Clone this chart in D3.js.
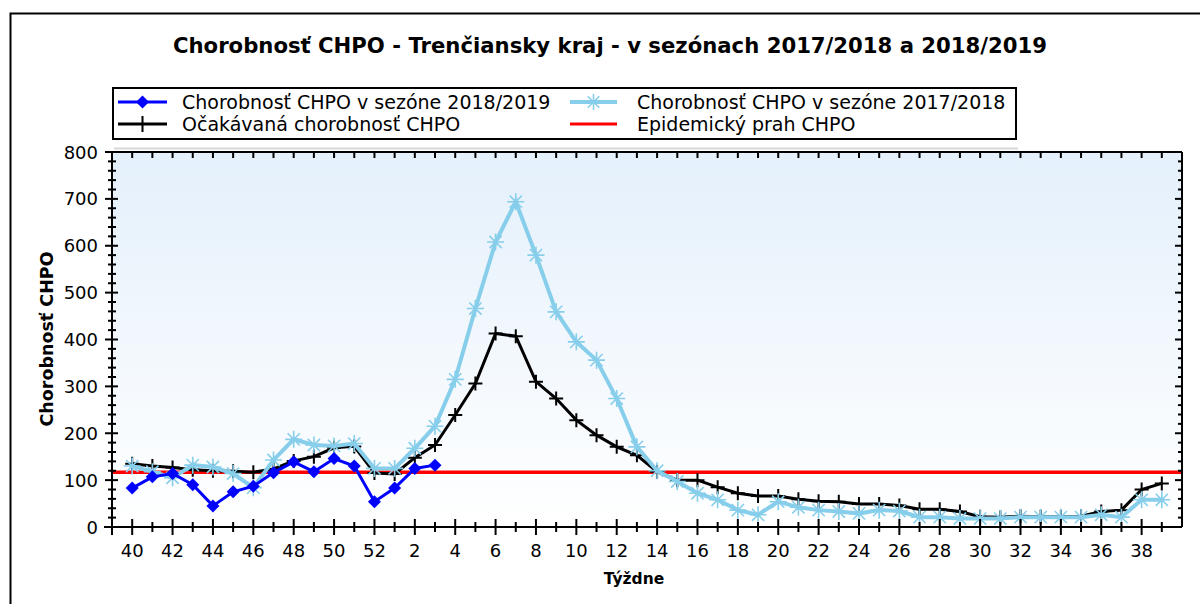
<!DOCTYPE html>
<html>
<head>
<meta charset="utf-8">
<script src="https://cdn.jsdelivr.net/npm/d3@7"></script>
<style>
  html, body { margin: 0; padding: 0; background: #fff; }
  svg { display: block; }
  text { font-family: "DejaVu Sans", sans-serif; fill: #000; }
</style>
</head>
<body>
<svg id="chart" width="1200" height="604"></svg>
<script>
// ---------- data ----------
const weeks = [40,41,42,43,44,45,46,47,48,49,50,51,52,1,2,3,4,5,6,7,8,9,10,11,12,13,14,15,16,17,18,19,20,21,22,23,24,25,26,27,28,29,30,31,32,33,34,35,36,37,38,39];
const season1819 = [83,107,114,90,45,75,87,116,139,118,146,130,54,83,125,132];
const season1718 = [130,118,105,132,128,114,84,143,187,175,173,178,125,125,168,215,315,466,608,694,580,459,395,356,274,171,120,97,72,58,36,26,54,42,36,33,29,36,34,21,21,18,18,18,21,21,21,21,26,21,58,58];
const expected = [135,130,127,122,120,119,117,124,141,150,169,172,115,113,148,175,239,306,413,407,310,274,228,196,171,153,118,100,100,85,72,66,66,59,55,54,49,49,46,38,38,33,22,21,23,22,22,23,33,36,80,93];
const threshold = 117;
const yTicks = [0,100,200,300,400,500,600,700,800];
const titleText = "Chorobnosť CHPO - Trenčiansky kraj - v sezónach 2017/2018 a 2018/2019";
const legendLabels = ["Chorobnosť CHPO v sezóne 2018/2019", "Chorobnosť CHPO v sezóne 2017/2018", "Očakávaná chorobnosť CHPO", "Epidemický prah CHPO"];
const xTitle = "Týždne";
const yTitle = "Chorobnosť CHPO";

// ---------- layout ----------
const svg = d3.select("#chart");
const L = 112, R = 1182, T = 152, B = 527;
const x = d3.scaleLinear().domain([-1, weeks.length]).range([L, R]);
const y = d3.scaleLinear().domain([0, 800]).range([B, T]);

// outer frame
svg.append("rect").attr("x", 10.5).attr("y", 13.5).attr("width", 1300).attr("height", 700)
  .attr("fill", "none").attr("stroke", "#000").attr("stroke-width", 2);

// gradient background
const defs = svg.append("defs");
const grad = defs.append("linearGradient").attr("id", "bg").attr("x1", 0).attr("y1", 0).attr("x2", 0).attr("y2", 1);
grad.append("stop").attr("offset", "0%").attr("stop-color", "#e4f0fb");
grad.append("stop").attr("offset", "100%").attr("stop-color", "#ffffff");
svg.append("rect").attr("x", L).attr("y", T).attr("width", R - L).attr("height", B - T).attr("fill", "url(#bg)");

// title
svg.append("text").attr("x", 610).attr("y", 53).attr("text-anchor", "middle")
  .attr("font-weight", "bold").attr("font-size", 21.2).text(titleText);

// legend
const lg = svg.append("g");
lg.append("line").attr("x1", 114).attr("x2", 1018).attr("y1", 148.5).attr("y2", 148.5).attr("stroke", "#d8d8d8").attr("stroke-width", 2);
lg.append("rect").attr("x", 113).attr("y", 88).attr("width", 903).attr("height", 51)
  .attr("fill", "#fff").attr("stroke", "#000").attr("stroke-width", 2);

function diamond(sel, s) { sel.append("path").attr("d", `M0,${-s}L${s},0L0,${s}L${-s},0Z`).attr("fill", "#0000ff"); }
function cross(sel, s) { sel.append("path").attr("d", `M${-s},0H${s}M0,${-s}V${s}`).attr("stroke", "#000").attr("stroke-width", 2).attr("fill", "none"); }
function star(sel, s) {
  const d = s * 0.72;
  sel.append("path").attr("d", `M${-s},0H${s}M0,${-s}V${s}M${-d},${-d}L${d},${d}M${-d},${d}L${d},${-d}`)
    .attr("stroke", "#87ceeb").attr("stroke-width", 1.6).attr("fill", "none");
}

const legendItems = [
  {x1: 118, x2: 167, ty: 102, tx: 182, color: "#0000ff", w: 3, mark: g => diamond(g, 6.5), label: legendLabels[0]},
  {x1: 570, x2: 617, ty: 102, tx: 637, color: "#87ceeb", w: 4, mark: g => star(g, 8), label: legendLabels[1]},
  {x1: 118, x2: 167, ty: 124, tx: 182, color: "#000", w: 3, mark: g => cross(g, 8), label: legendLabels[2]},
  {x1: 570, x2: 617, ty: 124, tx: 637, color: "#ff0000", w: 3, mark: null, label: legendLabels[3]}
];
legendItems.forEach(it => {
  lg.append("line").attr("x1", it.x1).attr("x2", it.x2).attr("y1", it.ty).attr("y2", it.ty)
    .attr("stroke", it.color).attr("stroke-width", it.w);
  if (it.mark) it.mark(lg.append("g").attr("transform", `translate(${(it.x1 + it.x2) / 2},${it.ty})`));
  lg.append("text").attr("x", it.tx).attr("y", it.ty + 7).attr("font-size", 19).text(it.label);
});

// plot content
const plot = svg.append("g");
// threshold
plot.append("line").attr("x1", L).attr("x2", R).attr("y1", y(threshold)).attr("y2", y(threshold))
  .attr("stroke", "#ff0000").attr("stroke-width", 3.5);

const line = d3.line().x((d, i) => x(i)).y(d => y(d));

// expected (black)
plot.append("path").datum(expected).attr("d", line).attr("fill", "none").attr("stroke", "#000").attr("stroke-width", 3);
expected.forEach((v, i) => cross(plot.append("g").attr("transform", `translate(${x(i)},${y(v)})`), 7));

// season 2017/2018 (light blue)
plot.append("path").datum(season1718).attr("d", line).attr("fill", "none").attr("stroke", "#87ceeb").attr("stroke-width", 4);
season1718.forEach((v, i) => star(plot.append("g").attr("transform", `translate(${x(i)},${y(v)})`), 8.5));

// season 2018/2019 (blue)
plot.append("path").datum(season1819).attr("d", line).attr("fill", "none").attr("stroke", "#0000ff").attr("stroke-width", 3);
season1819.forEach((v, i) => diamond(plot.append("g").attr("transform", `translate(${x(i)},${y(v)})`), 6.5));

// ---------- axes ----------
const ax = svg.append("g").attr("stroke", "#000");
// top border with ticks
ax.append("line").attr("x1", L).attr("x2", R).attr("y1", T).attr("y2", T).attr("stroke-width", 2);
weeks.forEach((w, i) => ax.append("line").attr("x1", x(i)).attr("x2", x(i)).attr("y1", T).attr("y2", T + 6).attr("stroke-width", 2));
// right border with ticks
ax.append("line").attr("x1", R).attr("x2", R).attr("y1", T).attr("y2", B).attr("stroke-width", 2);
d3.range(0, 801, 20).forEach(v => ax.append("line").attr("x1", R).attr("x2", R - (v % 100 === 0 ? 7 : 4))
  .attr("y1", y(v)).attr("y2", y(v)).attr("stroke-width", 2));
// left axis
ax.append("line").attr("x1", L).attr("x2", L).attr("y1", T).attr("y2", B + 8).attr("stroke-width", 2);
d3.range(0, 801, 20).forEach(v => {
  const big = v % 100 === 0;
  ax.append("line").attr("x1", L - (big ? 7 : 4)).attr("x2", L + (big ? 6 : 4))
    .attr("y1", y(v)).attr("y2", y(v)).attr("stroke-width", 2);
});
svg.selectAll(".ylab").data(yTicks).enter().append("text").attr("class", "ylab")
  .attr("x", 98).attr("y", d => y(d) + 6.5).attr("text-anchor", "end").attr("font-size", 18).text(d => d);
// bottom axis
ax.append("line").attr("x1", L - 8).attr("x2", R).attr("y1", B).attr("y2", B).attr("stroke-width", 2);
weeks.forEach((w, i) => {
  const big = w % 2 === 0;
  ax.append("line").attr("x1", x(i)).attr("x2", x(i)).attr("y1", B - (big ? 8 : 5)).attr("y2", B + (big ? 8 : 5)).attr("stroke-width", 2);
});
svg.selectAll(".xlab").data(weeks.map((w, i) => ({w, i})).filter(d => d.w % 2 === 0)).enter()
  .append("text").attr("class", "xlab").attr("x", d => x(d.i)).attr("y", 557)
  .attr("text-anchor", "middle").attr("font-size", 18).text(d => d.w);

// axis titles
svg.append("text").attr("x", 634).attr("y", 584).attr("text-anchor", "middle")
  .attr("font-weight", "bold").attr("font-size", 15.5).text(xTitle);
svg.append("text").attr("transform", "translate(53,339) rotate(-90)").attr("text-anchor", "middle")
  .attr("font-weight", "bold").attr("font-size", 17.5).text(yTitle);
</script>
</body>
</html>
